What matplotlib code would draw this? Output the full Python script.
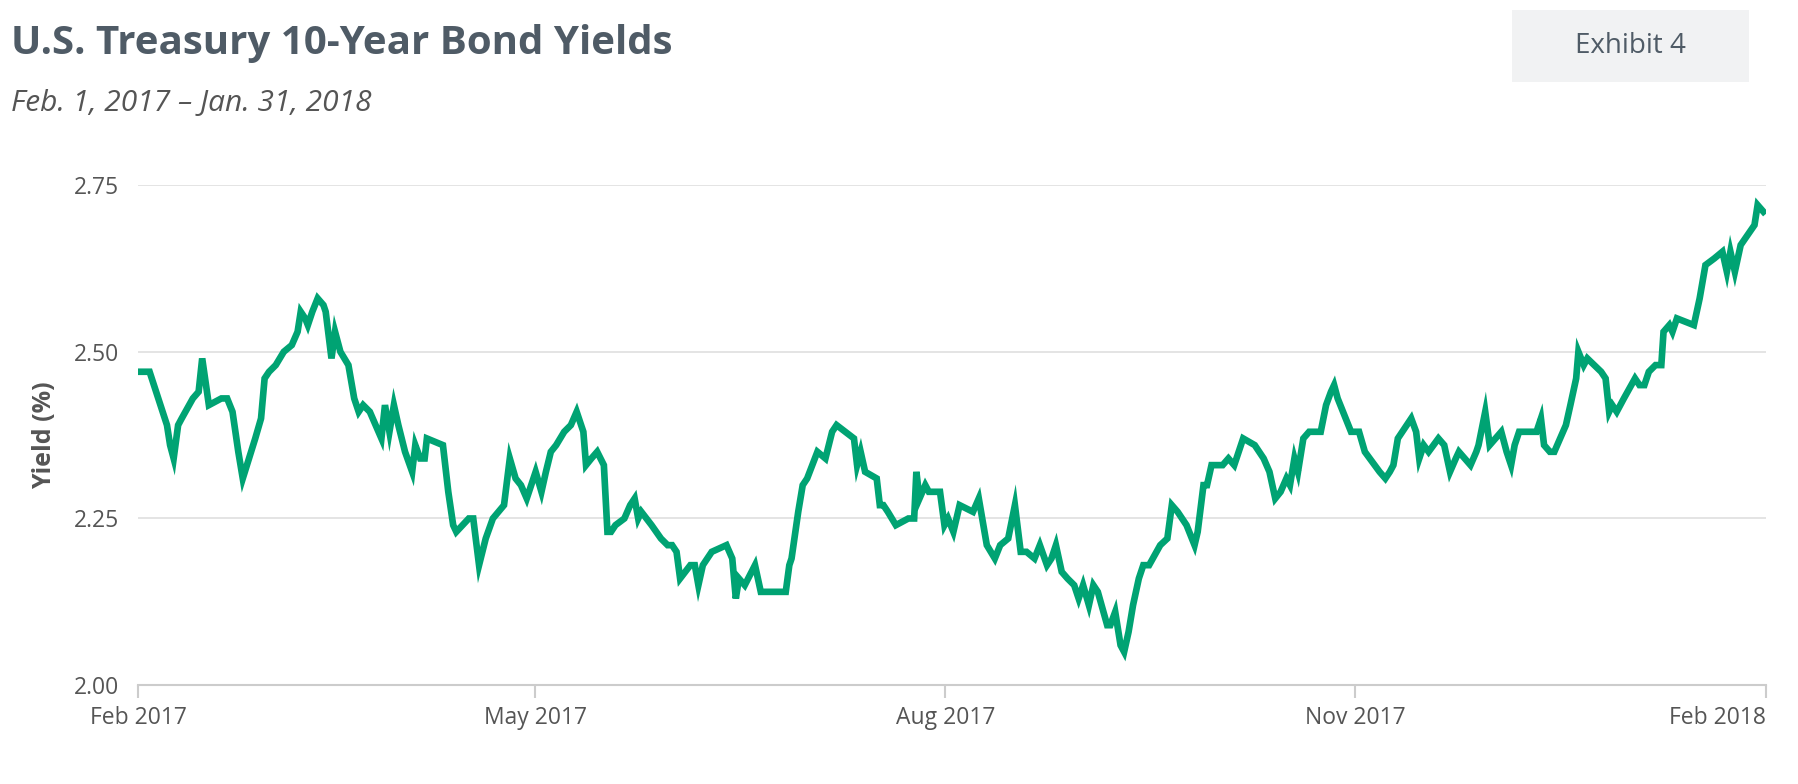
import numpy as np
import pandas as pd
import matplotlib
matplotlib.use("Agg")
import matplotlib.pyplot as plt
import matplotlib.dates as mdates
from matplotlib.patches import Rectangle

# days since Feb 1, 2017 and 10-year yield (%)
days = [0, 1.5, 2.5, 6.4, 7.1, 7.9, 8.9, 9.7, 12.2, 13.5, 14.3, 15.8, 18.6, 19.9, 21.1, 22.4, 23.4,
        26.2, 27.5, 28.3, 29.3, 30.8, 32.6, 34.4, 35.7, 36.4, 37.4, 38.0, 39.0, 40.2, 41.5, 42.0,
        43.3, 44.1, 45.3, 47.1, 48.4, 49.4, 50.4, 51.9, 54.5, 55.3, 56.3, 57.3, 58.3, 59.8, 61.4,
        62.1, 63.2, 64.2, 64.7, 68.3, 69.5, 70.6, 71.3, 74.1, 75.1, 76.4, 77.9, 79.5, 82.0, 83.3,
        84.6, 85.8, 87.1, 89.1, 90.4, 91.4, 92.5, 93.7, 95.5, 97.0, 98.3, 99.8, 100.4, 101.6,
        102.9, 104.4, 105.2, 106.0, 107.0, 109.0, 110.3, 111.3, 112.1, 112.8, 115.1, 117.2, 118.7,
        119.7, 120.7, 121.5, 123.8, 124.8, 125.6, 126.6, 128.6, 131.9, 133.2, 134.0, 134.7, 136.0,
        138.3, 139.6, 142.1, 142.6, 145.2, 146.0, 146.5, 148.0, 149.0, 150.0, 152.3, 154.1, 155.6,
        156.6, 160.5, 161.2, 162.0, 163.0, 165.6, 166.3, 167.1, 168.1, 169.9, 172.7, 174.0, 174.5,
        175.2, 176.5, 177.3, 179.8, 180.8, 181.6, 182.8, 184.2, 187.2, 188.5, 190.3, 192.1, 193.3,
        195.1, 196.6, 197.9, 199.2, 201.0, 202.2, 203.8, 204.8, 205.8, 207.1, 208.4, 209.9, 210.9,
        211.9, 213.2, 214.2, 215.2, 217.3, 218.0, 219.1, 220.3, 221.1, 222.1, 223.1, 224.4, 225.4,
        226.7, 229.2, 230.8, 231.8, 233.1, 235.1, 236.9, 237.6, 238.9, 239.7, 240.7, 243.2, 244.5,
        245.8, 247.8, 250.4, 251.4, 252.4, 253.7, 255.0, 256.2, 257.5, 258.3, 259.3, 260.1, 261.3,
        262.6, 265.2, 266.4, 267.5, 268.2, 269.0, 272.0, 273.8, 275.1, 278.4, 279.7, 280.7, 281.5,
        282.5, 285.5, 286.6, 287.3, 288.3, 289.4, 291.6, 292.9, 294.2, 295.5, 296.2, 298.8, 300.1,
        300.6, 302.1, 303.1, 305.7, 306.9, 307.9, 308.7, 309.7, 312.0, 313.6, 314.6, 315.3, 316.6,
        317.6, 320.2, 321.2, 322.5, 323.0, 324.2, 325.0, 328.1, 329.1, 329.9, 330.6, 331.6, 333.2,
        335.7, 336.7, 337.8, 338.8, 340.3, 341.6, 342.1, 343.4, 344.1, 345.1, 348.9, 350.2, 351.5,
        353.5, 355.3, 356.3, 357.1, 358.1, 359.4, 362.5, 363.2, 364.5]
yields = [2.47, 2.47, 2.47, 2.39, 2.36, 2.34, 2.39, 2.40, 2.43, 2.44, 2.49, 2.42, 2.43, 2.43, 2.41, 2.35, 2.31,
          2.37, 2.40, 2.46, 2.47, 2.48, 2.50, 2.51, 2.53, 2.56, 2.55, 2.54, 2.56, 2.58, 2.57, 2.56,
          2.49, 2.53, 2.50, 2.48, 2.43, 2.41, 2.42, 2.41, 2.37, 2.42, 2.38, 2.42, 2.39, 2.35, 2.32,
          2.36, 2.34, 2.34, 2.37, 2.36, 2.29, 2.24, 2.23, 2.25, 2.25, 2.18, 2.22, 2.25, 2.27, 2.34,
          2.31, 2.30, 2.28, 2.32, 2.29, 2.32, 2.35, 2.36, 2.38, 2.39, 2.41, 2.38, 2.33, 2.34,
          2.35, 2.33, 2.23, 2.23, 2.24, 2.25, 2.27, 2.28, 2.25, 2.26, 2.24, 2.22, 2.21,
          2.21, 2.20, 2.16, 2.18, 2.18, 2.15, 2.18, 2.20, 2.21, 2.19, 2.13, 2.16, 2.15,
          2.18, 2.14, 2.14, 2.14, 2.14, 2.18, 2.19, 2.26, 2.30, 2.31, 2.35, 2.34, 2.38,
          2.39, 2.37, 2.33, 2.35, 2.32, 2.31, 2.27, 2.27, 2.26, 2.24, 2.25, 2.25, 2.32,
          2.28, 2.30, 2.29, 2.29, 2.24, 2.25, 2.23, 2.27, 2.26, 2.28, 2.21, 2.19, 2.21,
          2.22, 2.27, 2.20, 2.20, 2.19, 2.21, 2.18, 2.19, 2.21, 2.17, 2.16, 2.15, 2.13,
          2.15, 2.12, 2.15, 2.14, 2.09, 2.09, 2.11, 2.06, 2.05, 2.08, 2.12, 2.16, 2.18,
          2.18, 2.21, 2.22, 2.27, 2.26, 2.24, 2.21, 2.23, 2.30, 2.30, 2.33, 2.33, 2.34,
          2.33, 2.37, 2.36, 2.35, 2.34, 2.32, 2.28, 2.29, 2.31, 2.30, 2.34, 2.32, 2.37,
          2.38, 2.38, 2.42, 2.44, 2.45, 2.43, 2.38, 2.38, 2.35, 2.32, 2.31, 2.32, 2.33,
          2.37, 2.40, 2.38, 2.34, 2.36, 2.35, 2.37, 2.36, 2.32, 2.34, 2.35, 2.33, 2.35,
          2.36, 2.41, 2.36, 2.38, 2.35, 2.33, 2.36, 2.38, 2.38, 2.38, 2.40, 2.36, 2.35,
          2.35, 2.39, 2.42, 2.46, 2.50, 2.48, 2.49, 2.47, 2.46, 2.41, 2.42, 2.41, 2.43,
          2.46, 2.45, 2.45, 2.47, 2.48, 2.48, 2.53, 2.54, 2.53, 2.55, 2.54, 2.58, 2.63,
          2.64, 2.65, 2.62, 2.65, 2.62, 2.66, 2.69, 2.72, 2.71]

start = pd.Timestamp("2017-02-01")
dates = [start + pd.Timedelta(days=d) for d in days]
tick_dates = pd.to_datetime(["2017-02-01", "2017-05-01", "2017-08-01", "2017-11-01", "2018-02-01"])
tick_labels = ["Feb 2017", "May 2017", "Aug 2017", "Nov 2017", "Feb 2018"]

plt.rcParams['font.family'] = ['Open Sans', 'DejaVu Sans']
fig = plt.figure(figsize=(17.98, 7.84), dpi=100)
ax = fig.add_axes([0.077, 0.126, 0.905, 0.638])

ax.plot(dates, yields, color="#00a373", lw=4.8, solid_joinstyle="miter")
ax.set_xlim(tick_dates[0], tick_dates[-1])
ax.set_ylim(2.0, 2.75)
ax.set_yticks([2.0, 2.25, 2.5, 2.75])
ax.set_yticklabels(["2.00", "2.25", "2.50", "2.75"])
ax.set_xticks(tick_dates)
ax.set_xticklabels(tick_labels)
ax.get_xticklabels()[-1].set_ha("right")
ax.get_xticklabels()[-1].set_x(0)
ax.grid(axis="y", color="#e2e2e2", lw=1.3)
ax.set_axisbelow(True)
for s in ["top", "right", "left"]:
    ax.spines[s].set_visible(False)
ax.spines["bottom"].set_color("#cccccc")
ax.spines["bottom"].set_linewidth(1.5)
ax.tick_params(axis="y", length=0, labelsize=16.5, labelcolor="#555555", pad=14)
ax.tick_params(axis="x", length=9, width=1.5, color="#cccccc", labelsize=16.5, labelcolor="#555555", pad=6)
ax.set_ylabel("Yield (%)", fontsize=18, fontweight="bold", color="#555555", labelpad=12)

fig.text(0.006, 0.945, "U.S. Treasury 10-Year Bond Yields", fontsize=29, fontweight="bold",
         color="#4f5b66", va="center")
fig.text(0.006, 0.868, "Feb. 1, 2017 \u2013 Jan. 31, 2018", fontsize=21.5, style="italic",
         color="#555555", va="center")
fig.patches.append(Rectangle((0.841, 0.895), 0.132, 0.092, transform=fig.transFigure,
                             facecolor="#f1f2f3", edgecolor="none"))
fig.text(0.907, 0.941, "Exhibit 4", fontsize=20, color="#4f5b66", ha="center", va="center")

fig.savefig("out.png", dpi=100)
